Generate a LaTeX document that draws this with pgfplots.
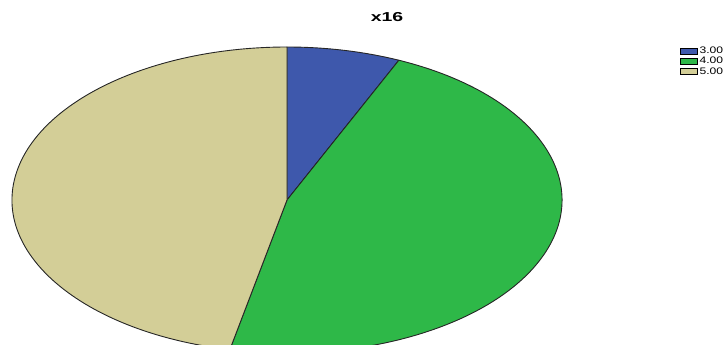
\documentclass[border=0pt]{standalone}
\usepackage{pgfplots}
\usepackage{pgfplotstable}
\pgfplotsset{compat=1.18}
\usepackage{fontspec}
\setmainfont{Liberation Sans}

\definecolor{spssblue}{HTML}{3E58AC}
\definecolor{spssgreen}{HTML}{2EB848}
\definecolor{spsstan}{HTML}{D3CE97}

% counts per category of x16
\pgfplotstableread{
label count color
3.00  2  spssblue
4.00  14 spssgreen
5.00  14 spsstan
}\piedata

\newcommand{\wide}[2][1.5]{\scalebox{#1}[1]{#2}}

\begin{document}
\begin{tikzpicture}
% total and slice angles (clockwise from 12 o'clock)
\gdef\total{0}
\foreach \i in {0,1,2}{
  \pgfplotstablegetelem{\i}{count}\of\piedata
  \pgfmathsetmacro\t{\total+\pgfplotsretval}
  \xdef\total{\t}
}
\gdef\cur{90}
\foreach \i in {0,1,2}{
  \pgfplotstablegetelem{\i}{count}\of\piedata
  \pgfmathsetmacro\nxt{\cur-360*\pgfplotsretval/\total}
  \expandafter\xdef\csname sa\i\endcsname{\cur}
  \expandafter\xdef\csname ea\i\endcsname{\nxt}
  \xdef\cur{\nxt}
  \pgfplotstablegetelem{\i}{color}\of\piedata
  \expandafter\xdef\csname col\i\endcsname{\pgfplotsretval}
}
\begin{axis}[
  at={(0,0)}, anchor=south west,
  width=725bp, height=345bp, scale only axis,
  xmin=0, xmax=725, ymin=0, ymax=345, y dir=reverse,
  hide axis, clip=false,
  legend style={at={(axis cs:680,47)}, anchor=north west, draw=none, fill=none,
    inner sep=0pt, font=\fontsize{9.5}{9.5}\selectfont, row sep=2bp,
    nodes={inner xsep=2bp, inner ysep=0pt},
    cells={anchor=west}},
  legend image code/.code={\draw[#1, draw=black!80, line width=0.6bp] (0bp,-0.3bp) rectangle (14bp,7bp);},
]
\pgfplotsinvokeforeach{0,1,2}{
  \edef\tmp{\noexpand\filldraw[fill=\csname col#1\endcsname, draw=black!85, line width=0.9bp, line join=round]
    (axis cs:287,200) -- ++(\csname sa#1\endcsname:275bp and 153bp)
    arc[start angle=\csname sa#1\endcsname, end angle=\csname ea#1\endcsname, x radius=275bp, y radius=153bp] -- cycle;}
  \tmp
}
\addlegendimage{area legend, fill=spssblue}
\addlegendentry{\wide[1.28]{3.00}}
\addlegendimage{area legend, fill=spssgreen}
\addlegendentry{\wide[1.28]{4.00}}
\addlegendimage{area legend, fill=spsstan}
\addlegendentry{\wide[1.28]{5.00}}
\node[font=\bfseries\fontsize{13}{13}\selectfont] at (axis cs:387,17) {\wide{x16}};
\end{axis}
\pgfresetboundingbox
\path (0,0) rectangle (725bp,345bp);
\end{tikzpicture}
\end{document}
